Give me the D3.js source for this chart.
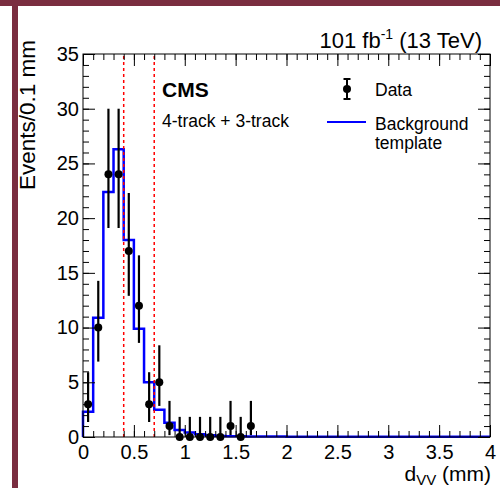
<!DOCTYPE html>
<html>
<head>
<meta charset="utf-8">
<script src="https://cdn.jsdelivr.net/npm/d3@7"></script>
<style>
  body { margin: 0; background: #fff; }
  svg text { font-family: "Liberation Sans", Arial, Helvetica, sans-serif; fill: #000; }
</style>
</head>
<body>
<div id="chart-area"></div>
<script>
/*
*    dVV plot
*/

// data points (bin centres, counts, 68% Poisson interval)
var dataX = [0.05, 0.15, 0.25, 0.35, 0.45, 0.55, 0.65, 0.75, 0.85, 0.95, 1.05, 1.15, 1.25, 1.35, 1.45, 1.55, 1.65];
var dataY = [3, 10, 24, 24, 17, 12, 3, 5, 1, 0, 0, 0, 0, 0, 1, 0, 1];
var dataLo = [1.37, 6.89, 19.1, 19.1, 12.9, 8.6, 1.37, 2.84, 0.17, 0, 0, 0, 0, 0, 0.17, 0, 0.17];
var dataHi = [5.92, 14.27, 30.0, 30.0, 22.3, 16.6, 5.92, 8.38, 3.30, 1.84, 1.84, 1.84, 1.84, 1.84, 3.30, 1.84, 3.30];

// background template, one value per 0.1 mm bin from 0 to 4 mm
var bgEdges = [0, 0.1, 0.2, 0.3, 0.4, 0.5, 0.6, 0.7, 0.8, 0.9, 1.0, 1.1, 1.2, 1.3, 1.4, 1.5, 1.6, 1.7, 1.8, 1.9,
               2.0, 2.1, 2.2, 2.3, 2.4, 2.5, 2.6, 2.7, 2.8, 2.9, 3.0, 3.1, 3.2, 3.3, 3.4, 3.5, 3.6, 3.7, 3.8, 3.9, 4.0];
var bgY = [2.3, 10.9, 22.4, 26.3, 18.0, 9.9, 5.0, 2.5, 1.3, 0.65, 0.4, 0.25, 0.15, 0.1, 0.08, 0.06, 0.05, 0.05, 0.04, 0.04,
           0.03, 0.03, 0.03, 0.03, 0.03, 0.03, 0.03, 0.03, 0.03, 0.03, 0.03, 0.03, 0.03, 0.03, 0.03, 0.03, 0.03, 0.03, 0.03, 0.03];

// selection cuts
var cutX = [0.4, 0.7];

var xTicks = [0, 0.5, 1, 1.5, 2, 2.5, 3, 3.5, 4];
var yTicks = [0, 5, 10, 15, 20, 25, 30, 35];

var margin = {top: 54, right: 10, bottom: 51, left: 83};
var width = 407;
var height = 383;

var svg = d3.select("#chart-area")
	.append("svg")
	.attr("width", 500)
	.attr("height", 488);

// maroon page frame
svg.append("rect").attr("x", 0).attr("y", 0).attr("width", 500).attr("height", 6).attr("fill", "#7a2d40");
svg.append("rect").attr("x", 12).attr("y", 0).attr("width", 6).attr("height", 488).attr("fill", "#7a2d40");

var g = svg.append("g")
	.attr("transform", "translate(" + margin.left + ", " + margin.top + ")");

var x = d3.scaleLinear().domain([0, 4]).range([0, width]);
var y = d3.scaleLinear().domain([0, 35]).range([height, 0]);

// background step histogram
var stepPts = [[bgEdges[0], 0]];
bgY.forEach((v, i) => { stepPts.push([bgEdges[i], v]); });
stepPts.push([bgEdges[bgEdges.length - 1], bgY[bgY.length - 1]]);

var line = d3.line()
	.x((d) => x(d[0]))
	.y((d) => y(d[1]))
	.curve(d3.curveStepAfter);

g.append("path")
	.datum(stepPts)
	.attr("d", line)
	.attr("fill", "none")
	.attr("stroke", "#0000ff")
	.attr("stroke-width", 2.5);

// cut lines
g.selectAll(".cut").data(cutX).enter()
	.append("line")
	.attr("class", "cut")
	.attr("x1", (d) => x(d)).attr("x2", (d) => x(d))
	.attr("y1", y(0)).attr("y2", y(35))
	.attr("stroke", "#ff0000")
	.attr("stroke-width", 1.5)
	.attr("stroke-dasharray", "3,3");

// data error bars + points
var pts = dataX.map((d, i) => ({x: d, y: dataY[i], lo: dataLo[i], hi: dataHi[i]}));

g.selectAll(".err").data(pts).enter()
	.append("line")
	.attr("class", "err")
	.attr("x1", (d) => x(d.x)).attr("x2", (d) => x(d.x))
	.attr("y1", (d) => y(d.lo)).attr("y2", (d) => y(d.hi))
	.attr("stroke", "#000")
	.attr("stroke-width", 2.2);

g.selectAll(".pt").data(pts).enter()
	.append("circle")
	.attr("class", "pt")
	.attr("cx", (d) => x(d.x))
	.attr("cy", (d) => y(d.y))
	.attr("r", 4)
	.attr("fill", "#000");

// axes, ticks inside on all four sides
var fmt = d3.format("");
function axes(axisFn, scale, major, minor, translate, showLabels) {
	var maj = axisFn(scale).tickValues(major).tickSize(-12).tickSizeOuter(0)
		.tickPadding(showLabels ? 8 : 0)
		.tickFormat(showLabels ? fmt : "");
	var mnr = axisFn(scale).tickValues(minor).tickSize(-6).tickSizeOuter(0).tickFormat("");
	var a = g.append("g").attr("transform", translate).call(maj);
	var b = g.append("g").attr("transform", translate).call(mnr);
	[a, b].forEach((s) => {
		s.select(".domain").remove();
		s.selectAll("line").attr("stroke", "#000");
	});
	return a;
}

var xMinor = x.ticks(40);
var yMinor = y.ticks(35);

var bottom = axes(d3.axisBottom, x, xTicks, xMinor, "translate(0," + height + ")", true);
bottom.selectAll("text").attr("font-size", "20px").attr("dy", "0.71em").attr("y", 8);
axes(d3.axisTop, x, xTicks, xMinor, "translate(0,0)", false);
var left = axes(d3.axisLeft, y, yTicks, yMinor, "translate(0,0)", true);
left.selectAll("text").attr("font-size", "20px").attr("x", -4);
axes(d3.axisRight, y, yTicks, yMinor, "translate(" + width + ",0)", false);

// frame
g.append("rect")
	.attr("width", width).attr("height", height)
	.attr("fill", "none").attr("stroke", "#000").attr("stroke-width", 1);

// axis titles
var xt = svg.append("text")
	.attr("x", 491).attr("y", 481)
	.attr("font-size", "21px")
	.attr("text-anchor", "end");
xt.append("tspan").text("d");
xt.append("tspan").attr("font-size", "15px").attr("dy", 4).text("VV");
xt.append("tspan").attr("dy", -4).text(" (mm)");

svg.append("text")
	.attr("transform", "translate(35, 40) rotate(-90)")
	.attr("font-size", "22.5px")
	.attr("text-anchor", "end")
	.text("Events/0.1 mm");

// lumi label
var lt = svg.append("text")
	.attr("x", 482).attr("y", 48)
	.attr("font-size", "22px")
	.attr("text-anchor", "end");
lt.append("tspan").text("101 fb");
lt.append("tspan").attr("font-size", "14px").attr("dy", -9).text("-1");
lt.append("tspan").attr("dy", 9).text(" (13 TeV)");

svg.append("text")
	.attr("x", 162).attr("y", 97)
	.attr("font-size", "21px")
	.attr("font-weight", "bold")
	.text("CMS");

svg.append("text")
	.attr("x", 162).attr("y", 127)
	.attr("font-size", "17.5px")
	.text("4-track + 3-track");

// legend
var leg = svg.append("g");
leg.append("line").attr("x1", 347).attr("x2", 347).attr("y1", 79).attr("y2", 99)
	.attr("stroke", "#000").attr("stroke-width", 2);
leg.append("line").attr("x1", 343.5).attr("x2", 350.5).attr("y1", 79).attr("y2", 79)
	.attr("stroke", "#000").attr("stroke-width", 2);
leg.append("line").attr("x1", 343.5).attr("x2", 350.5).attr("y1", 99).attr("y2", 99)
	.attr("stroke", "#000").attr("stroke-width", 2);
leg.append("circle").attr("cx", 347).attr("cy", 89).attr("r", 4).attr("fill", "#000");
leg.append("text").attr("x", 375).attr("y", 96).attr("font-size", "17.5px").text("Data");

leg.append("line").attr("x1", 327).attr("x2", 366).attr("y1", 122).attr("y2", 122)
	.attr("stroke", "#0000ff").attr("stroke-width", 2);
leg.append("text").attr("x", 375).attr("y", 130).attr("font-size", "17.5px").text("Background");
leg.append("text").attr("x", 375).attr("y", 149).attr("font-size", "17.5px").text("template");
</script>
</body>
</html>
